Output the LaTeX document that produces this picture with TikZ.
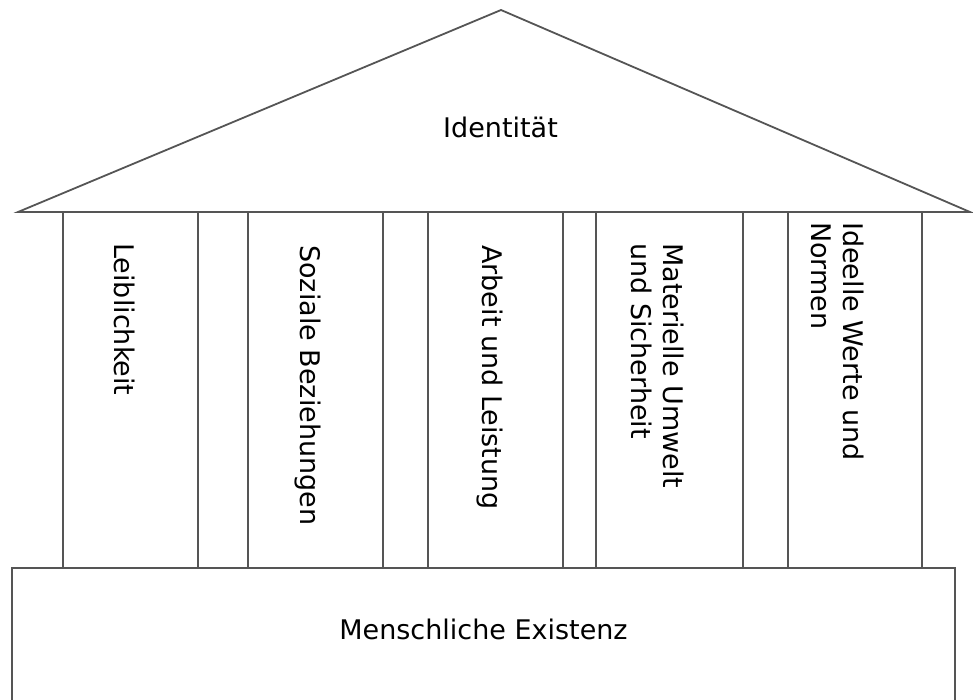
\documentclass[tikz,border=0pt]{standalone}
\usepackage{fontspec}
\setmainfont{DejaVu Sans}
\definecolor{wallgray}{RGB}{85,85,85}

\begin{document}
\begin{tikzpicture}[
  x=1pt, y=-1pt,
  font=\fontsize{27}{32}\selectfont,
  wall/.style={draw=wallgray, line width=1.8pt, line join=miter},
  lbl/.style={inner sep=0pt, text=black},
  vlbl/.style={lbl, rotate=-90, anchor=north west, align=left}
]
\useasboundingbox (0,0) rectangle (973,699);

% roof, pillars, base
\draw[wall] (18,212) -- (501,10) -- (970,212) -- cycle;
\foreach \l/\r in {63/198, 248/383, 428/563, 596/743, 788/922}
  \draw[wall] (\l,212) rectangle (\r,568);
\draw[wall] (12,702) rectangle (955,568);

% labels
\node[lbl, anchor=base] (ident) at (500.5,137) {Identität};
\node[vlbl] (leib) at (135,243) {Leiblichkeit};
\node[vlbl] (sozial) at (321,245) {Soziale Beziehungen};
\node[vlbl] (arbeit) at (503,245) {Arbeit und Leistung};
\node[vlbl] (materiell) at (684,243) {Materielle Umwelt\\und Sicherheit};
\node[vlbl] (ideell) at (864,222) {Ideelle Werte und\\Normen};
\node[lbl, anchor=base] (existenz) at (483.5,639) {Menschliche Existenz};
\end{tikzpicture}
\end{document}
